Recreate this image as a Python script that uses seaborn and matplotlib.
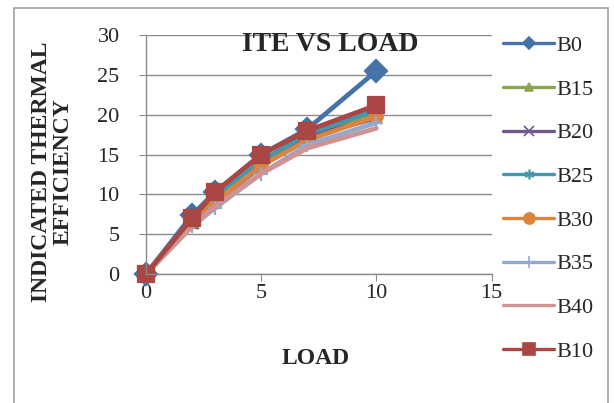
import matplotlib
matplotlib.use("Agg")
import matplotlib.pyplot as plt
from matplotlib.patches import Rectangle
import seaborn as sns

loads = [0, 2, 3, 5, 7, 10]
series_names = ["B0", "B15", "B20", "B25", "B30", "B35", "B40", "B10"]
b0 = [0, 7.4, 10.3, 15.0, 18.2, 25.5]
b15 = [0, 6.5, 9.5, 14.0, 17.5, 20.3]
b20 = [0, 6.4, 9.0, 13.5, 17.2, 19.6]
b25 = [0, 6.8, 9.6, 14.2, 17.6, 20.6]
b30 = [0, 6.6, 9.1, 13.6, 16.8, 19.8]
b35 = [0, 6.0, 8.3, 12.6, 16.2, 19.0]
b40 = [0, 6.0, 8.5, 12.6, 15.8, 18.3]
b10 = [0, 7.0, 10.3, 15.0, 18.0, 21.2]
values = [b0, b15, b20, b25, b30, b35, b40, b10]

colors = ["#4572A7", "#89A54E", "#71588F", "#4198AF",
          "#DB843D", "#93A9CF", "#D19392", "#AA4643"]
markers = ["D", "^", "x", (6, 2, 0), "o", "+", None, "s"]
msizes = [11, 8, 8, 8, 9, 10, 0, 12]
leg_msizes = [6, 6, 7, 7, 8, 9, 0, 8]

sns.set_style("white")
plt.rcParams["font.family"] = ["Liberation Serif", "DejaVu Serif"]

fig = plt.figure(figsize=(6.14, 4.03), dpi=100)
ax = fig.add_axes([0.2378, 0.320, 0.563, 0.593])

for name, vals, c, m, ms in zip(series_names, values, colors, markers, msizes):
    kw = {}
    if m is not None:
        kw = dict(marker=m, markersize=ms, markeredgewidth=1.6,
                  markeredgecolor=c, markerfacecolor=c)
    sns.lineplot(x=loads, y=vals, color=c, lw=3.4, label=name, ax=ax,
                 clip_on=False, **kw)

ax.set_xlim(0, 15)
ax.set_ylim(0, 30)
ax.set_xticks([0, 5, 10, 15])
ax.set_yticks(range(0, 31, 5))
ax.grid(axis="y", color="#8c8c8c", lw=1)
ax.set_axisbelow(True)
for s in ["top", "right"]:
    ax.spines[s].set_visible(False)
for s in ["left", "bottom"]:
    ax.spines[s].set_color("#8c8c8c")
    ax.spines[s].set_linewidth(1)
ax.tick_params(axis="both", which="both", length=5, color="#8c8c8c",
               labelsize=16, direction="out", bottom=True, left=True)
ax.tick_params(axis="y", pad=14)
ax.tick_params(axis="x", pad=2)

ax.set_title("ITE VS LOAD", fontsize=20, fontweight="bold", y=0.90, x=0.532)
ax.set_xlabel("LOAD", fontsize=17, fontweight="bold")
ax.xaxis.set_label_coords(0.49, -0.31)
ax.set_ylabel("INDICATED THERMAL\nEFFICIENCY", fontsize=17, fontweight="bold",
              linespacing=1.05)
ax.yaxis.set_label_coords(-0.21, 0.43)

leg = ax.legend(loc="upper left", bbox_to_anchor=(1.007, 1.035), frameon=False,
                fontsize=16, handlelength=2.3, labelspacing=1.04,
                handletextpad=0.1, borderaxespad=0)
for h, lms in zip(leg.legend_handles, leg_msizes):
    h.set_linewidth(2.4)
    h.set_markersize(lms)
    h.set_markeredgewidth(1.2)

fig.patches.append(Rectangle((14 / 614, -0.05), (608 - 14) / 614, 1.05 - 8 / 403,
                             transform=fig.transFigure, fill=False,
                             edgecolor="#a0a0a0", lw=1.2))

fig.savefig("out.png", dpi=100)
plt.close(fig)
